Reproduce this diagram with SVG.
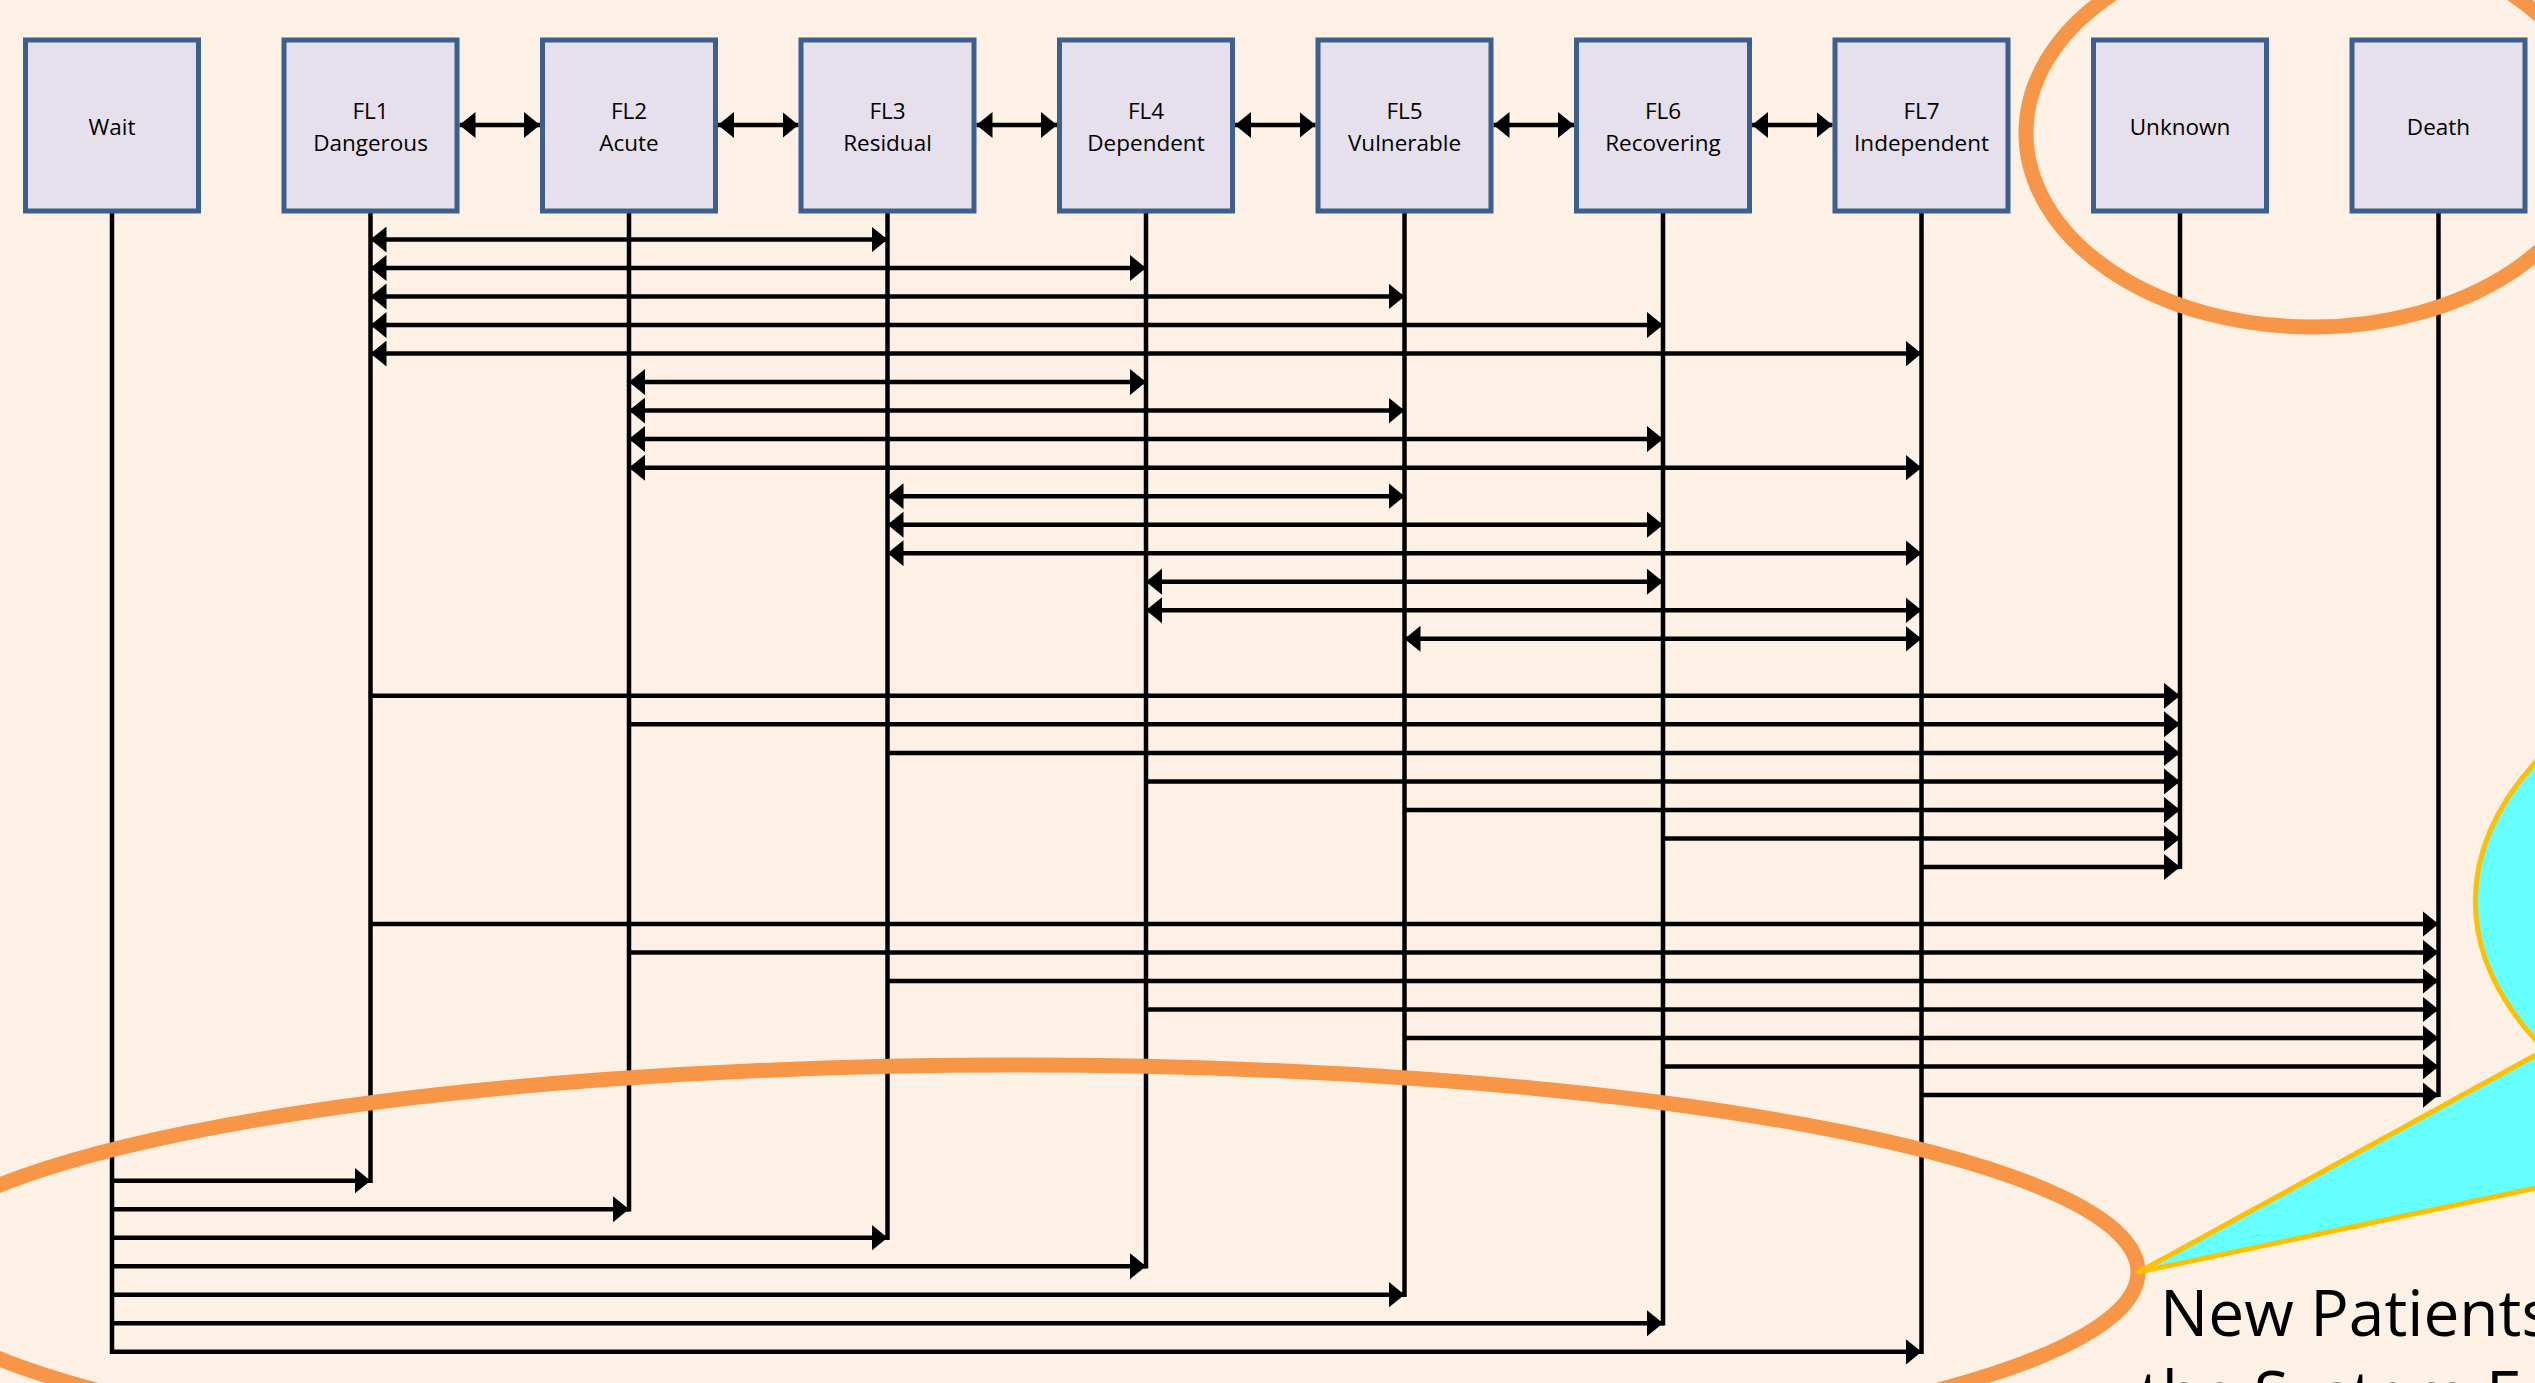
<svg xmlns="http://www.w3.org/2000/svg" width="2535" height="1383" viewBox="0 0 2535 1383">
  <style>
    .box { fill: #E5E0EC; stroke: #3C5F8D; stroke-width: 5; }
    .lbl { font-family: "Open Sans", "Liberation Sans", sans-serif; font-size: 22.5px; fill: #000; text-anchor: middle; }
    .vl { stroke: #000; stroke-width: 4.5; fill: none; }
    .hl { stroke: #000; stroke-width: 4.5; fill: none; marker-end: url(#ah); }
    .bi { marker-start: url(#ah); }
    .ring { fill: none; stroke: #F79646; stroke-width: 15; }
    .note { font-family: "Open Sans", "Liberation Sans", sans-serif; font-size: 64px; fill: #000; }
  </style>
  <defs>
    <marker id="ah" markerUnits="userSpaceOnUse" markerWidth="16" markerHeight="26" viewBox="0 0 16 26" refX="16" refY="13" orient="auto-start-reverse">
      <path d="M0,0 L16,13 L0,26 Z" fill="#000"/>
    </marker>
  </defs>

  <rect width="2535" height="1383" fill="#FDF1E5"/>

  <!-- connectors -->
  <g id="connectors">
    <!-- drop lines under each state -->
    <path class="vl" d="M112,213 V1354"/>
    <path class="vl" d="M370.5,213 V1183"/>
    <path class="vl" d="M629,213 V1211.5"/>
    <path class="vl" d="M887.5,213 V1240"/>
    <path class="vl" d="M1146,213 V1268.5"/>
    <path class="vl" d="M1404.5,213 V1297"/>
    <path class="vl" d="M1663,213 V1325.5"/>
    <path class="vl" d="M1921.5,213 V1354"/>
    <path class="vl" d="M2180,213 V869"/>
    <path class="vl" d="M2438.5,213 V1097"/>

    <!-- neighbouring levels -->
    <path class="hl bi" d="M459.5,125 H540"/>
    <path class="hl bi" d="M718,125 H798.5"/>
    <path class="hl bi" d="M976.5,125 H1057"/>
    <path class="hl bi" d="M1235,125 H1315.5"/>
    <path class="hl bi" d="M1493.5,125 H1574"/>
    <path class="hl bi" d="M1752,125 H1832.5"/>

    <!-- two-way transitions between levels -->
    <path class="hl bi" d="M370.5,239.5 H887.5"/>
    <path class="hl bi" d="M370.5,268 H1146"/>
    <path class="hl bi" d="M370.5,296.5 H1404.5"/>
    <path class="hl bi" d="M370.5,325.1 H1663"/>
    <path class="hl bi" d="M370.5,353.6 H1921.5"/>
    <path class="hl bi" d="M629,382.1 H1146"/>
    <path class="hl bi" d="M629,410.6 H1404.5"/>
    <path class="hl bi" d="M629,439.1 H1663"/>
    <path class="hl bi" d="M629,467.7 H1921.5"/>
    <path class="hl bi" d="M887.5,496.2 H1404.5"/>
    <path class="hl bi" d="M887.5,524.7 H1663"/>
    <path class="hl bi" d="M887.5,553.2 H1921.5"/>
    <path class="hl bi" d="M1146,581.7 H1663"/>
    <path class="hl bi" d="M1146,610.3 H1921.5"/>
    <path class="hl bi" d="M1404.5,638.8 H1921.5"/>

    <!-- to Unknown -->
    <path class="hl" d="M370.5,695.8 H2180"/>
    <path class="hl" d="M629,724.3 H2180"/>
    <path class="hl" d="M887.5,752.9 H2180"/>
    <path class="hl" d="M1146,781.4 H2180"/>
    <path class="hl" d="M1404.5,809.9 H2180"/>
    <path class="hl" d="M1663,838.4 H2180"/>
    <path class="hl" d="M1921.5,866.9 H2180"/>

    <!-- to Death -->
    <path class="hl" d="M370.5,924 H2438.5"/>
    <path class="hl" d="M629,952.5 H2438.5"/>
    <path class="hl" d="M887.5,981 H2438.5"/>
    <path class="hl" d="M1146,1009.5 H2438.5"/>
    <path class="hl" d="M1404.5,1038.1 H2438.5"/>
    <path class="hl" d="M1663,1066.6 H2438.5"/>
    <path class="hl" d="M1921.5,1095.1 H2438.5"/>

    <!-- from Wait -->
    <path class="hl" d="M112,1180.7 H370.5"/>
    <path class="hl" d="M112,1209.2 H629"/>
    <path class="hl" d="M112,1237.7 H887.5"/>
    <path class="hl" d="M112,1266.2 H1146"/>
    <path class="hl" d="M112,1294.7 H1404.5"/>
    <path class="hl" d="M112,1323.3 H1663"/>
    <path class="hl" d="M112,1351.8 H1921.5"/>
  </g>

  <!-- states -->
  <g id="wait">
    <rect class="box" x="25.5" y="40" width="173" height="171"/>
    <text class="lbl" x="112" y="135">Wait</text>
  </g>
  <g id="fl1">
    <rect class="box" x="284" y="40" width="173" height="171"/>
    <text class="lbl" x="370.5" y="119">FL1</text>
    <text class="lbl" x="370.5" y="151">Dangerous</text>
  </g>
  <g id="fl2">
    <rect class="box" x="542.5" y="40" width="173" height="171"/>
    <text class="lbl" x="629" y="119">FL2</text>
    <text class="lbl" x="629" y="151">Acute</text>
  </g>
  <g id="fl3">
    <rect class="box" x="801" y="40" width="173" height="171"/>
    <text class="lbl" x="887.5" y="119">FL3</text>
    <text class="lbl" x="887.5" y="151">Residual</text>
  </g>
  <g id="fl4">
    <rect class="box" x="1059.5" y="40" width="173" height="171"/>
    <text class="lbl" x="1146" y="119">FL4</text>
    <text class="lbl" x="1146" y="151">Dependent</text>
  </g>
  <g id="fl5">
    <rect class="box" x="1318" y="40" width="173" height="171"/>
    <text class="lbl" x="1404.5" y="119">FL5</text>
    <text class="lbl" x="1404.5" y="151">Vulnerable</text>
  </g>
  <g id="fl6">
    <rect class="box" x="1576.5" y="40" width="173" height="171"/>
    <text class="lbl" x="1663" y="119">FL6</text>
    <text class="lbl" x="1663" y="151">Recovering</text>
  </g>
  <g id="fl7">
    <rect class="box" x="1835" y="40" width="173" height="171"/>
    <text class="lbl" x="1921.5" y="119">FL7</text>
    <text class="lbl" x="1921.5" y="151">Independent</text>
  </g>
  <g id="unknown">
    <rect class="box" x="2093.5" y="40" width="173" height="171"/>
    <text class="lbl" x="2180" y="135">Unknown</text>
  </g>
  <g id="death">
    <rect class="box" x="2352" y="40" width="173" height="171"/>
    <text class="lbl" x="2438.5" y="135">Death</text>
  </g>

  <!-- highlight rings -->
  <g id="highlights">
    <ellipse class="ring" cx="2312" cy="133" rx="286" ry="194"/>
    <ellipse class="ring" cx="1017" cy="1272" rx="1121" ry="207"/>
  </g>

  <!-- callout -->
  <g id="callout">
    <path d="M2545,752 A800,365 0 0 0 2545,1050 L2139,1272 L2545,1186 Z" fill="#66FFFF" stroke="#FFC000" stroke-width="5" stroke-linejoin="round"/>
    <text class="note" x="2160" y="1336">New Patients</text>
    <text class="note" x="2139" y="1417">the System F</text>
  </g>
</svg>
